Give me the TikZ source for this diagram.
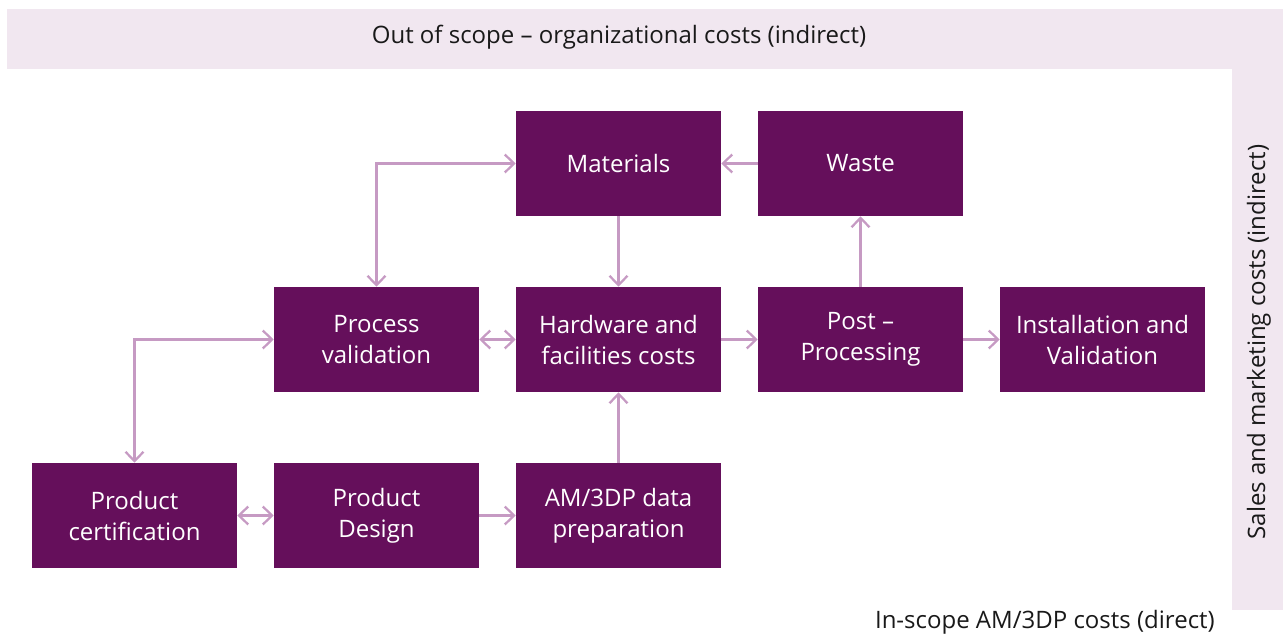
\documentclass[tikz,border=0pt]{standalone}
\usepackage{fontspec}
\setmainfont{Open Sans}
\usetikzlibrary{arrows.meta}

\definecolor{plum}{RGB}{101,15,91}
\definecolor{lilac}{RGB}{198,154,195}
\definecolor{mist}{RGB}{241,231,240}

\begin{document}
\begin{tikzpicture}[x=0.75pt,y=0.75pt,yscale=-1,xscale=1,
  costbox/.style={fill=plum,text=white,minimum width=153.75pt,minimum height=78.75pt,
    align=center,inner sep=0pt,font=\fontsize{18}{23.25}\selectfont},
  link/.style={draw=lilac,line width=1.7pt,arrows={-Straight Barb[length=7pt,width=13.5pt]}},
  twoway/.style={link,arrows={Straight Barb[length=7pt,width=13.5pt]-Straight Barb[length=7pt,width=13.5pt]}},
  bandtext/.style={text=black!90,inner sep=0pt,font=\fontsize{18}{22}\selectfont}]
\path[use as bounding box] (0,0) rectangle (1283,636);

%Bands
\fill[mist] (7,9) rectangle (1283,69);
\fill[mist] (1232,69) rectangle (1283,610);
\node[bandtext] (outscope) at (619,37) {Out of scope -- organizational costs (indirect)};
\node[bandtext,rotate=90] (sales) at (1259,342) {Sales and marketing costs (indirect)};
\node[bandtext,anchor=east] (inscope) at (1215,622) {In-scope AM/3DP costs (direct)};

%Boxes
\node[costbox] (mat) at (618.5,163.5) {Materials};
\node[costbox] (waste) at (860.5,163.5) {Waste};
\node[costbox] (pv) at (376.5,339.5) {Process\\validation};
\node[costbox] (hw) at (618.5,339.5) {Hardware and\\facilities costs};
\node[costbox] (post) at (860.5,339.5) {Post --\\Processing};
\node[costbox] (inst) at (1102.5,339.5) {Installation and\\Validation};
\node[costbox] (pc) at (134.5,515.5) {Product\\certification};
\node[costbox] (pd) at (376.5,515.5) {Product\\Design};
\node[costbox] (am) at (618.5,515.5) {AM/3DP data\\preparation};

%Arrows
\draw[twoway] (mat.west) -| (pv.north);
\draw[twoway] (pv.west) -| (pc.north);
\draw[twoway] (pv) -- (hw);
\draw[twoway] (pc) -- (pd);
\draw[link] (waste) -- (mat);
\draw[link] (mat) -- (hw);
\draw[link] (hw) -- (post);
\draw[link] (post) -- (inst);
\draw[link] (post) -- (waste);
\draw[link] (am) -- (hw);
\draw[link] (pd) -- (am);

\end{tikzpicture}
\end{document}
